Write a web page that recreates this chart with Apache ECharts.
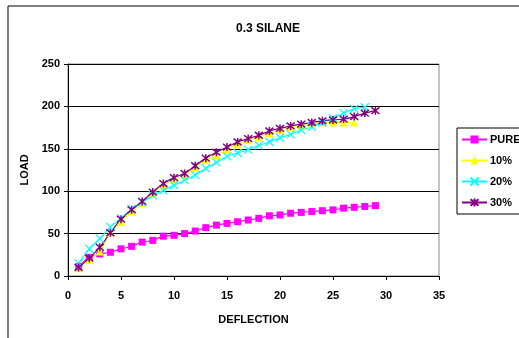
<!DOCTYPE html>
<html><head><meta charset="utf-8">
<script src="https://cdn.jsdelivr.net/npm/echarts@6/dist/echarts.min.js"></script>
<style>html,body{margin:0;padding:0;background:#fff;}#c{width:519px;height:338px;}</style>
</head><body><div id="c"></div>
<script>
const deflection = [1,2,3,4,5,6,7,8,9,10,11,12,13,14,15,16,17,18,19,20,21,22,23,24,25,26,27,28,29];
const pure = [11,22,26,28,32,35,40,42,47,48,50,53,57,60,62,64,66,68,71,72,74,75,76,77,78,80,81,82,83];
const p10 = [9,19,29,51,64,76,86,98,107,114,119,128,137,142,149,155,160,164,168,172,175,177,179,181,181,181,181];
const p20 = [15,32,44,58,68,79,87,95,101,107,113,119,127,134,141,145,149,154,158,163,167,172,176,181,186,192,197,199];
const p30 = [10,21,34,51,67,78,88,99,109,116,121,130,139,146,152,158,162,166,171,174,177,179,181,183,184,185,188,192,195];
const seriesNames = ['PURE','10%','20%','30%'];
const yTicks = [0,50,100,150,200,250];
const xTicks = [0,5,10,15,20,25,30,35];

function pairs(vals){ return vals.map((v,i)=>[deflection[i],v]); }
const font = 'Liberation Sans, Arial, sans-serif';
const chart = echarts.init(document.getElementById('c'));
const xShape = 'path://M0,0L10,10M10,0L0,10';
const starShape = 'path://M0,0L10,10M10,0L0,10M5,-1L5,11';
chart.setOption({
  animation:false,
  backgroundColor:'#fff',
  graphic:[{type:'rect',shape:{x:8,y:6,width:600,height:400},style:{fill:'none',stroke:'#000',lineWidth:1},z:-1}],
  title:{text:'0.3 SILANE',left:231,top:18,textStyle:{fontFamily:font,fontSize:12,fontWeight:'bold',color:'#000'}},
  legend:{orient:'vertical',left:457,top:128,padding:[6,40,6,4],borderColor:'#000',borderWidth:1,
    itemWidth:25,itemHeight:10,itemGap:10,
    textStyle:{fontFamily:font,fontSize:11,fontWeight:'bold',color:'#000',padding:[0,0,0,-2]},
    data:seriesNames},
  grid:{left:68,top:64,right:80,bottom:62,show:true,borderColor:'#888',borderWidth:1},
  xAxis:{type:'value',min:0,max:35,interval:5,name:'DEFLECTION',nameLocation:'middle',nameGap:38,
    nameTextStyle:{fontFamily:font,fontSize:11,fontWeight:'bold',color:'#000'},
    axisLine:{lineStyle:{color:'#000'}},axisTick:{show:true,length:4,lineStyle:{color:'#000'}},
    axisLabel:{fontFamily:font,fontSize:11,fontWeight:'bold',color:'#000',margin:14,
      formatter:v=>xTicks.includes(v)?String(v):''},
    splitLine:{show:false}},
  yAxis:{type:'value',min:0,max:250,interval:50,name:'LOAD',nameLocation:'middle',nameGap:31,
    nameTextStyle:{fontFamily:font,fontSize:11,fontWeight:'bold',color:'#000'},
    axisLine:{show:true,lineStyle:{color:'#000'}},axisTick:{show:true,length:4,lineStyle:{color:'#000'}},
    axisLabel:{fontFamily:font,fontSize:11,fontWeight:'bold',color:'#000',margin:8,
      formatter:v=>yTicks.includes(v)?String(v):''},
    splitLine:{show:true,lineStyle:{color:'#000',width:1}}},
  series:[
    {name:'PURE',type:'line',smooth:0.3,data:pairs(pure),symbol:'rect',symbolSize:7,
      itemStyle:{color:'#FF00FF'},lineStyle:{color:'#FF00FF',width:1.2}},
    {name:'10%',type:'line',smooth:0.3,data:pairs(p10),symbol:'triangle',symbolSize:8,
      itemStyle:{color:'#FFFF00'},lineStyle:{color:'#FFFF00',width:1.2}},
    {name:'20%',type:'line',smooth:0.3,data:pairs(p20),symbol:xShape,symbolSize:8,
      itemStyle:{color:'#00FFFF',borderColor:'#00FFFF',borderWidth:1.2},lineStyle:{color:'#00FFFF',width:1.2}},
    {name:'30%',type:'line',smooth:0.3,data:pairs(p30),symbol:starShape,symbolSize:8,
      itemStyle:{color:'#800080',borderColor:'#800080',borderWidth:1.5},lineStyle:{color:'#800080',width:1.2}}
  ]
});
</script></body></html>
